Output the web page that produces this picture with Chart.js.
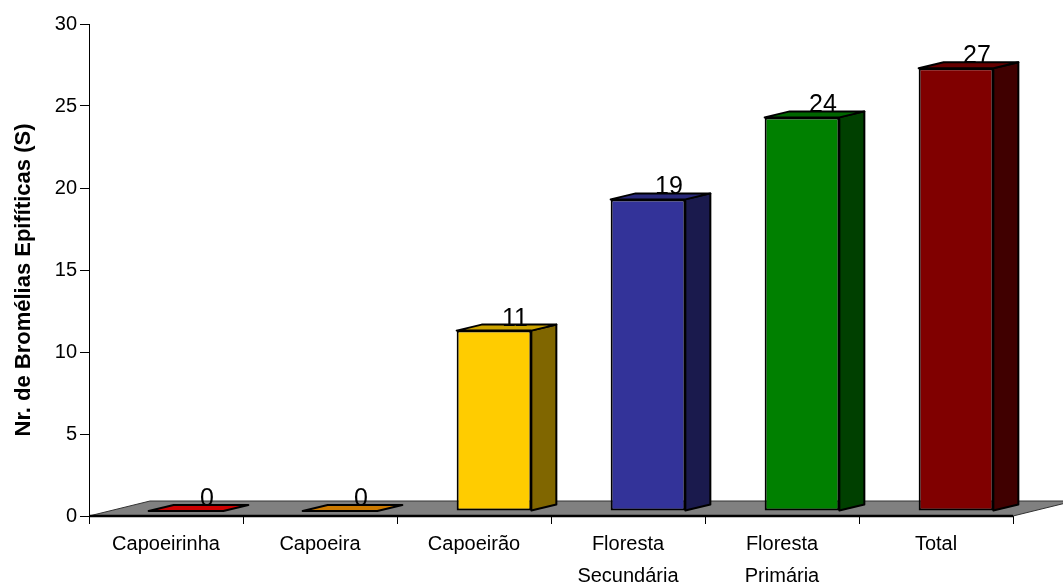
<!DOCTYPE html>
<html>
<head>
<meta charset="utf-8">
<script src="https://cdn.jsdelivr.net/npm/chart.js@4.4.1/dist/chart.umd.min.js"></script>
<style>
  html, body { margin: 0; padding: 0; background: #fff; }
  #wrap { width: 1063px; height: 583px; }
</style>
</head>
<body>
<div id="wrap"><canvas id="c" width="1063" height="583"></canvas></div>
<script>
// Epiphytic bromeliad richness per successional stage
const categories = ['Capoeirinha', 'Capoeira', 'Capoeirão', ['Floresta', 'Secundária'], ['Floresta', 'Primária'], 'Total'];
const riqueza = [0, 0, 11, 19, 24, 27];
const frontColors = ['#FF0000', '#FF9900', '#FFCC00', '#333399', '#008000', '#800000'];
const topColors   = ['#CC0000', '#CC7A00', '#CCA300', '#29297A', '#006600', '#660000'];
const sideColors  = ['#800000', '#804D00', '#806600', '#1A1A4D', '#004000', '#400000'];
const yTicks = [0, 5, 10, 15, 20, 25, 30];
const yTitle = 'Nr. de Bromélias Epifíticas (S)';

const FONT = '"Liberation Sans", Arial, sans-serif';

// oblique projection used for the pseudo-3D look
const FLOOR = { dx: 61, dy: -15 };  // full depth of the floor
const PLANE = { dx: 20, dy: -5 };   // plane where the bar fronts stand
const DEPTH = { dx: 25, dy: -6 };   // thickness of each bar

function poly(ctx, pts, fill) {
  ctx.beginPath();
  ctx.moveTo(pts[0][0], pts[0][1]);
  for (let k = 1; k < pts.length; k++) ctx.lineTo(pts[k][0], pts[k][1]);
  ctx.closePath();
  ctx.fillStyle = fill;
  ctx.fill();
  ctx.stroke();
}

const bars3d = {
  id: 'bars3d',
  beforeDatasetsDraw(chart) {
    const { ctx, chartArea: a } = chart;
    const y0 = chart.scales.y.getPixelForValue(0);
    ctx.save();
    ctx.strokeStyle = '#333';
    ctx.lineWidth = 1;
    poly(ctx, [[a.left, y0], [a.left + FLOOR.dx, y0 + FLOOR.dy], [a.right + FLOOR.dx, y0 + FLOOR.dy], [a.right, y0]], '#808080');
    ctx.beginPath();
    ctx.moveTo(a.left, y0);
    ctx.lineTo(a.right, y0);
    ctx.lineWidth = 2.5;
    ctx.strokeStyle = '#000';
    ctx.stroke();
    ctx.restore();
    // bar fronts are drawn one third of the way into the floor
    ctx.save();
    ctx.translate(PLANE.dx, PLANE.dy);
  },
  afterDatasetsDraw(chart) {
    const ctx = chart.ctx;
    ctx.restore();
    const meta = chart.getDatasetMeta(0);
    ctx.save();
    ctx.strokeStyle = '#000';
    ctx.lineWidth = 2;
    ctx.lineJoin = 'round';
    meta.data.forEach((bar, i) => {
      const { x, y, base, width } = bar.getProps(['x', 'y', 'base', 'width'], true);
      const l = x - width / 2 + PLANE.dx;
      const r = x + width / 2 + PLANE.dx;
      const t = y + PLANE.dy;
      const b = base + PLANE.dy;
      if (b - t > 0.5) {
        poly(ctx, [[r, t], [r + DEPTH.dx, t + DEPTH.dy], [r + DEPTH.dx, b + DEPTH.dy], [r, b]], sideColors[i]);
      }
      poly(ctx, [[l, t], [l + DEPTH.dx, t + DEPTH.dy], [r + DEPTH.dx, t + DEPTH.dy], [r, t]], topColors[i]);
    });
    // value labels
    ctx.fillStyle = '#000';
    ctx.font = '25px ' + FONT;
    ctx.textAlign = 'center';
    ctx.textBaseline = 'alphabetic';
    meta.data.forEach((bar, i) => {
      const { x, y } = bar.getProps(['x', 'y'], true);
      ctx.fillText(String(riqueza[i]), x + PLANE.dx + 21, y + PLANE.dy + DEPTH.dy + 1);
    });
    ctx.restore();
  },
  afterDraw(chart) {
    const ctx = chart.ctx;
    ctx.save();
    ctx.translate(24, 280);
    ctx.rotate(-Math.PI / 2);
    ctx.fillStyle = '#000';
    ctx.font = 'bold 22px ' + FONT;
    ctx.textAlign = 'center';
    ctx.textBaseline = 'middle';
    ctx.fillText(yTitle, 0, 0);
    ctx.restore();
  }
};

new Chart(document.getElementById('c'), {
  type: 'bar',
  data: {
    labels: categories,
    datasets: [{
      data: riqueza,
      backgroundColor: frontColors,
      borderColor: '#000',
      borderWidth: 2,
      borderSkipped: false,
      categoryPercentage: 1,
      barPercentage: 0.485,
      clip: false
    }]
  },
  options: {
    responsive: false,
    animation: false,
    devicePixelRatio: 1,
    layout: { padding: { left: 0, top: 24, right: 50, bottom: 0 } },
    plugins: { legend: { display: false }, tooltip: { enabled: false } },
    scales: {
      x: {
        offset: true,
        grid: { display: true, drawOnChartArea: false, offset: true, tickLength: 8, color: '#000', lineWidth: 1 },
        border: { display: false },
        ticks: {
          autoSkip: false, maxRotation: 0, minRotation: 0, padding: 4, color: '#000',
          font: { family: FONT, size: 20, lineHeight: 1.6 }
        },
        afterFit(scale) { scale.height = 67; }
      },
      y: {
        min: 0, max: 30,
        afterBuildTicks(scale) { scale.ticks = yTicks.map(v => ({ value: v })); },
        grid: { display: true, drawOnChartArea: false, tickLength: 9, color: '#000', lineWidth: 1 },
        border: { display: true, color: '#000', width: 1 },
        ticks: { padding: 3, color: '#000', font: { family: FONT, size: 20 } },
        afterFit(scale) { scale.width = 89; }
      }
    }
  },
  plugins: [bars3d]
});
</script>
</body>
</html>
